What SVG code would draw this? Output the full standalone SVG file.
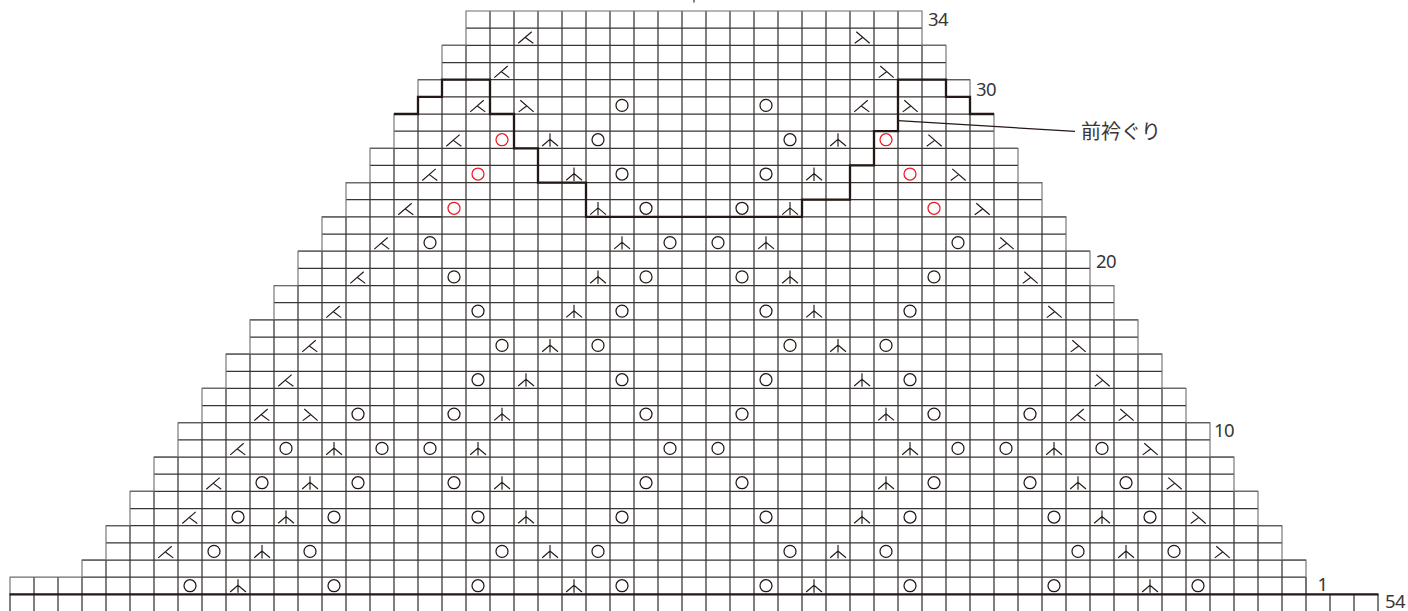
<svg xmlns="http://www.w3.org/2000/svg" width="1408" height="611" viewBox="0 0 1408 611">
<style>
.g{fill:none;stroke:#383533;stroke-width:1.25}
.e{fill:none;stroke:#6e6c6b;stroke-width:1.1}
.t{fill:none;stroke:#231815;stroke-width:2.3}
.s{fill:none;stroke:#231815;stroke-width:1.15}
.o{fill:none;stroke:#231815;stroke-width:1.25}
.ro{fill:none;stroke:#ed1c24;stroke-width:1.25}
text{font-family:"Noto Sans","Open Sans","Noto Sans CJK JP",sans-serif;font-size:18.5px;font-weight:400;fill:#3a3634}
</style>
<defs>
<path id="l" class="s" d="M-7.7 6.5L5.7-5.1M-.3 .9L7.3 6.5"/>
<path id="r" class="s" d="M7.7 6.5L-5.7-5.1M.3 .9L-7.3 6.5"/>
<path id="c" class="s" d="M0-6.4V7M-7.8 6.3L0-.4L8 6.3"/>
<circle id="o" class="o" r="6"/>
<circle id="e" class="ro" r="6"/>
</defs>
<rect width="1408" height="611" fill="#fff"/>
<g id="grid">
<path class="g" d="M466 28.2H922M442 45.4H946M442 62.5H946M418 79.7H970M418 96.8H970M394 114H994M394 131.1H994M370 148.3H1018M370 165.4H1018M346 182.6H1042M346 199.7H1042M322 216.9H1066M322 234H1066M298 251.2H1090M298 268.4H1090M274 285.5H1114M274 302.7H1114M250 319.8H1138M250 337H1138M226 354.1H1162M226 371.3H1162M202 388.4H1186M202 405.6H1186M178 422.7H1210M178 439.9H1210M154 457.1H1234M154 474.2H1234M130 491.4H1258M130 508.5H1258M106 525.7H1282M106 542.8H1282M82 560H1306M82 577.1H1306"/>
<path class="g" d="M10 594.3V611M34 577.1V611M58 577.1V611M82 577.1V611M106 560V611M130 525.7V611M154 491.4V611M178 457.1V611M202 422.7V611M226 388.4V611M250 354.1V611M274 319.8V611M298 285.5V611M322 251.2V611M346 216.9V611M370 182.6V611M394 148.3V611M418 114V611M442 79.7V611M466 45.4V611M490 11V611M514 11V611M538 11V611M562 11V611M586 11V611M610 11V611M634 11V611M658 11V611M682 11V611M706 11V611M730 11V611M754 11V611M778 11V611M802 11V611M826 11V611M850 11V611M874 11V611M898 11V611M922 45.4V611M946 79.7V611M970 114V611M994 148.3V611M1018 182.6V611M1042 216.9V611M1066 251.2V611M1090 285.5V611M1114 319.8V611M1138 354.1V611M1162 388.4V611M1186 422.7V611M1210 457.1V611M1234 491.4V611M1258 525.7V611M1282 560V611M1306 577.1V611M1330 594.3V611M1354 594.3V611M1378 594.3V611"/>
<path class="e" d="M10 594.3V577.1H82V560H106V525.7H130V491.4H154V457.1H178V422.7H202V388.4H226V354.1H250V319.8H274V285.5H298V251.2H322V216.9H346V182.6H370V148.3H394V114H418V79.7H442V45.4H466V11H922V45.4H946V79.7H970V114H994V148.3H1018V182.6H1042V216.9H1066V251.2H1090V285.5H1114V319.8H1138V354.1H1162V388.4H1186V422.7H1210V457.1H1234V491.4H1258V525.7H1282V560H1306V594.3"/>
<path class="g" d="M418 199.7H442M418 216.9H442"/>
<path class="t" d="M9.5 594.3H1378.5"/>
<path class="g" d="M694 0V2.5"/>
</g>
<g id="neckline">
<path class="t" d="M394 114H418V96.8H442V79.7H490V114H514V148.3H538V182.6H586V216.9H802V199.7H850V165.4H874V131.1H898V79.7H946V96.8H970V114H994"/>
</g>
<g id="stitches">
<g transform="translate(0 36.8)"><use href="#l" x="526"/><use href="#r" x="862"/></g>
<g transform="translate(0 71.1)"><use href="#l" x="502"/><use href="#r" x="886"/></g>
<g transform="translate(0 105.4)"><use href="#l" x="478"/><use href="#r" x="526"/><use href="#o" x="622"/><use href="#o" x="766"/><use href="#l" x="862"/><use href="#r" x="910"/></g>
<g transform="translate(0 139.7)"><use href="#l" x="454"/><use href="#e" x="502"/><use href="#c" x="550"/><use href="#o" x="598"/><use href="#o" x="790"/><use href="#c" x="838"/><use href="#e" x="886"/><use href="#r" x="934"/></g>
<g transform="translate(0 174)"><use href="#l" x="430"/><use href="#e" x="478"/><use href="#c" x="574"/><use href="#o" x="622"/><use href="#o" x="766"/><use href="#c" x="814"/><use href="#e" x="910"/><use href="#r" x="958"/></g>
<g transform="translate(0 208.3)"><use href="#l" x="406"/><use href="#e" x="454"/><use href="#c" x="598"/><use href="#o" x="646"/><use href="#o" x="742"/><use href="#c" x="790"/><use href="#e" x="934"/><use href="#r" x="982"/></g>
<g transform="translate(0 242.6)"><use href="#l" x="382"/><use href="#o" x="430"/><use href="#c" x="622"/><use href="#o" x="670"/><use href="#o" x="718"/><use href="#c" x="766"/><use href="#o" x="958"/><use href="#r" x="1006"/></g>
<g transform="translate(0 276.9)"><use href="#l" x="358"/><use href="#o" x="454"/><use href="#c" x="598"/><use href="#o" x="646"/><use href="#o" x="742"/><use href="#c" x="790"/><use href="#o" x="934"/><use href="#r" x="1030"/></g>
<g transform="translate(0 311.1)"><use href="#l" x="334"/><use href="#o" x="478"/><use href="#c" x="574"/><use href="#o" x="622"/><use href="#o" x="766"/><use href="#c" x="814"/><use href="#o" x="910"/><use href="#r" x="1054"/></g>
<g transform="translate(0 345.4)"><use href="#l" x="310"/><use href="#o" x="502"/><use href="#c" x="550"/><use href="#o" x="598"/><use href="#o" x="790"/><use href="#c" x="838"/><use href="#o" x="886"/><use href="#r" x="1078"/></g>
<g transform="translate(0 379.7)"><use href="#l" x="286"/><use href="#o" x="478"/><use href="#c" x="526"/><use href="#o" x="622"/><use href="#o" x="766"/><use href="#c" x="862"/><use href="#o" x="910"/><use href="#r" x="1102"/></g>
<g transform="translate(0 414.1)"><use href="#l" x="262"/><use href="#r" x="310"/><use href="#o" x="358"/><use href="#o" x="454"/><use href="#c" x="502"/><use href="#o" x="646"/><use href="#o" x="742"/><use href="#c" x="886"/><use href="#o" x="934"/><use href="#o" x="1030"/><use href="#l" x="1078"/><use href="#r" x="1126"/></g>
<g transform="translate(0 448.4)"><use href="#l" x="238"/><use href="#o" x="286"/><use href="#c" x="334"/><use href="#o" x="382"/><use href="#o" x="430"/><use href="#c" x="478"/><use href="#o" x="670"/><use href="#o" x="718"/><use href="#c" x="910"/><use href="#o" x="958"/><use href="#o" x="1006"/><use href="#c" x="1054"/><use href="#o" x="1102"/><use href="#r" x="1150"/></g>
<g transform="translate(0 482.7)"><use href="#l" x="214"/><use href="#o" x="262"/><use href="#c" x="310"/><use href="#o" x="358"/><use href="#o" x="454"/><use href="#c" x="502"/><use href="#o" x="646"/><use href="#o" x="742"/><use href="#c" x="886"/><use href="#o" x="934"/><use href="#o" x="1030"/><use href="#c" x="1078"/><use href="#o" x="1126"/><use href="#r" x="1174"/></g>
<g transform="translate(0 517)"><use href="#l" x="190"/><use href="#o" x="238"/><use href="#c" x="286"/><use href="#o" x="334"/><use href="#o" x="478"/><use href="#c" x="526"/><use href="#o" x="622"/><use href="#o" x="766"/><use href="#c" x="862"/><use href="#o" x="910"/><use href="#o" x="1054"/><use href="#c" x="1102"/><use href="#o" x="1150"/><use href="#r" x="1198"/></g>
<g transform="translate(0 551.4)"><use href="#l" x="166"/><use href="#o" x="214"/><use href="#c" x="262"/><use href="#o" x="310"/><use href="#o" x="502"/><use href="#c" x="550"/><use href="#o" x="598"/><use href="#o" x="790"/><use href="#c" x="838"/><use href="#o" x="886"/><use href="#o" x="1078"/><use href="#c" x="1126"/><use href="#o" x="1174"/><use href="#r" x="1222"/></g>
<g transform="translate(0 585.7)"><use href="#o" x="190"/><use href="#c" x="238"/><use href="#o" x="334"/><use href="#o" x="478"/><use href="#c" x="574"/><use href="#o" x="622"/><use href="#o" x="766"/><use href="#c" x="814"/><use href="#o" x="910"/><use href="#o" x="1054"/><use href="#c" x="1150"/><use href="#o" x="1198"/></g>
</g>
<g id="leader">
<path class="s" d="M898 120.6L1075 131.4"/>
<text x="1081" y="139" style="font-size:20px;font-family:'Noto Sans CJK JP',sans-serif">前衿ぐり</text>
</g>
<g id="labels">
<text x="928" y="25.5" textLength="20.5">34</text>
<text x="976" y="95.5" textLength="20.5">30</text>
<text x="1096" y="268" textLength="20.5">20</text>
<text x="1214" y="436.5" textLength="20.5">10</text>
<text x="1317.5" y="590.5">1</text>
<text x="1385" y="608" textLength="20.5">54</text>
</g>
</svg>
